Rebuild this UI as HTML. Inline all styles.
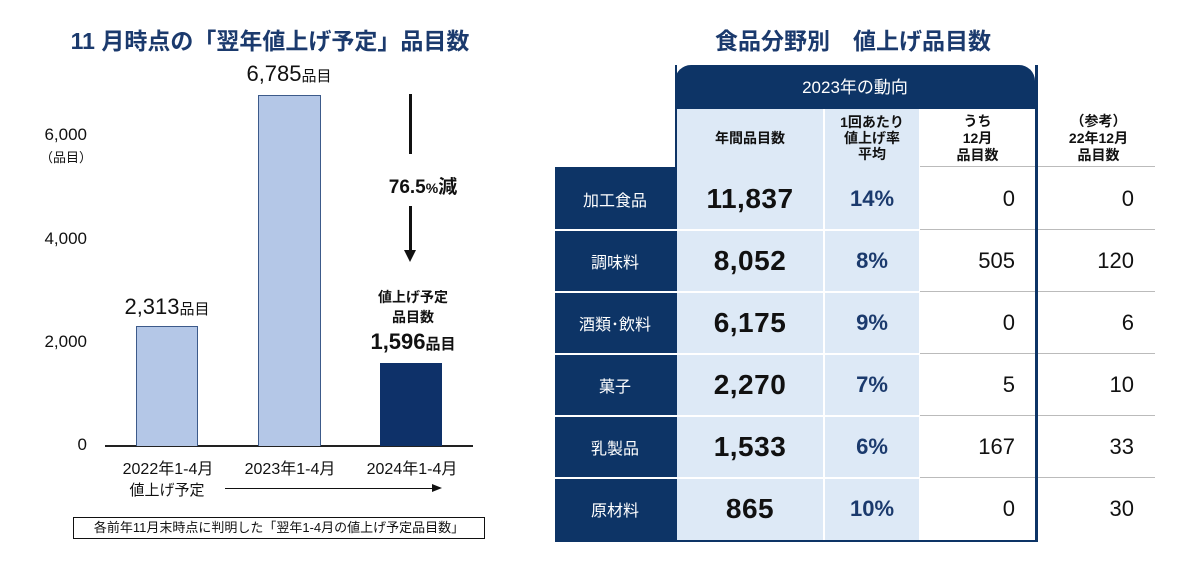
<!DOCTYPE html>
<html><head><meta charset="utf-8"><style>
body{margin:0;width:1202px;height:565px;background:#fff;position:relative;overflow:hidden;font-family:"Liberation Sans","Noto Sans CJK JP",sans-serif;color:#111}
.a{position:absolute;white-space:nowrap}
.c{transform:translateX(-50%);text-align:center}
.t{font-weight:bold;color:#1b3a6d;font-size:23px}
.bar{position:absolute;box-sizing:border-box}
.cell{position:absolute;display:flex;align-items:center;justify-content:center;box-sizing:border-box}
</style></head><body>
<div class="a c t" style="left:270px;top:22px">11 月時点の「翌年値上げ予定」品目数</div>
<div class="a t c" style="left:853px;top:22px">食品分野別　値上げ品目数</div>

<div class="a" style="right:1115px;top:125px;font-size:17px">6,000</div>
<div class="a" style="left:40px;top:147px;font-size:13px">（品目）</div>
<div class="a" style="right:1115px;top:229px;font-size:17px">4,000</div>
<div class="a" style="right:1115px;top:332px;font-size:17px">2,000</div>
<div class="a" style="right:1115px;top:435px;font-size:17px">0</div>
<div class="a" style="left:105px;top:445px;width:368px;height:2px;background:#222"></div>

<div class="bar" style="left:136px;top:326px;width:62px;height:120px;background:#b4c7e7;border:1.5px solid #3c5a8a;border-bottom:none"></div>
<div class="bar" style="left:258px;top:95px;width:63px;height:351px;background:#b4c7e7;border:1.5px solid #3c5a8a;border-bottom:none"></div>
<div class="bar" style="left:380px;top:363px;width:62px;height:83px;background:#0e3169"></div>

<div class="a c" style="left:289px;top:61px;font-size:22px">6,785<span style="font-size:15px">品目</span></div>
<div class="a c" style="left:167px;top:294px;font-size:22px">2,313<span style="font-size:15px">品目</span></div>
<div class="a c" style="left:413px;top:287px;font-size:14px;font-weight:bold;line-height:20px">値上げ予定<br>品目数</div>
<div class="a c" style="left:413px;top:329px;font-size:22px;font-weight:bold">1,596<span style="font-size:15px">品目</span></div>

<div class="a" style="left:409px;top:94px;width:3px;height:60px;background:#111"></div>
<div class="a c" style="left:423px;top:172px;font-size:19px;font-weight:bold">76.5<span style="font-size:14px">%</span>減</div>
<div class="a" style="left:409px;top:206px;width:3px;height:46px;background:#111"></div>
<div class="a" style="left:404px;top:250px;width:0;height:0;border-left:6.5px solid transparent;border-right:6.5px solid transparent;border-top:12px solid #111"></div>

<div class="a c" style="left:168px;top:455px;font-size:16px">2022年1-4月</div>
<div class="a c" style="left:290px;top:455px;font-size:16px">2023年1-4月</div>
<div class="a c" style="left:412px;top:455px;font-size:16px">2024年1-4月</div>
<div class="a c" style="left:167px;top:479px;font-size:15px">値上げ予定</div>
<div class="a" style="left:225px;top:488px;width:208px;height:1px;background:#111"></div>
<div class="a" style="left:432px;top:484px;width:0;height:0;border-top:4.5px solid transparent;border-bottom:4.5px solid transparent;border-left:10px solid #111"></div>
<div class="a" style="left:73px;top:517px;width:410px;height:20px;border:1.5px solid #111;font-size:13px;line-height:20px;text-align:center">各前年11月末時点に判明した「翌年1-4月の値上げ予定品目数」</div>

<div class="a" style="left:675px;top:65px;width:360px;height:44px;background:#0d3466;border-radius:16px 16px 0 0;color:#fff;font-size:17px;text-align:center;line-height:46px">2023年の動向</div>
<div class="a" style="left:677px;top:109px;width:242px;height:431px;background:#dde9f6"></div>
<div class="a" style="left:823px;top:109px;width:2px;height:431px;background:#fff"></div>
<div class="a" style="left:675px;top:65px;width:2px;height:477px;background:#0d3466"></div>
<div class="a" style="left:1035px;top:65px;width:3px;height:477px;background:#0d3466"></div>
<div class="a" style="left:555px;top:167px;width:122px;height:375px;background:#0d3466"></div>
<div class="a" style="left:555px;top:540px;width:483px;height:2px;background:#0d3466"></div>

<div class="cell" style="left:677px;top:109px;width:146px;height:58px;font-size:14px;font-weight:bold">年間品目数</div>
<div class="cell" style="left:825px;top:109px;width:94px;height:58px;font-size:14px;font-weight:bold;line-height:16px;text-align:center">1回あたり<br>値上げ率<br>平均</div>
<div class="cell" style="left:920px;top:109px;width:115px;height:58px;font-size:14px;font-weight:bold;line-height:17px;text-align:center">うち<br>12月<br>品目数</div>
<div class="cell" style="left:1040px;top:109px;width:117px;height:58px;font-size:14px;font-weight:bold;line-height:17px;text-align:center">（参考）<br>22年12月<br>品目数</div>

<div id="rows"></div>
<script>
var d=[["加工食品","11,837","14%","0","0"],["調味料","8,052","8%","505","120"],["酒類･飲料","6,175","9%","0","6"],["菓子","2,270","7%","5","10"],["乳製品","1,533","6%","167","33"],["原材料","865","10%","0","30"]];
var h="";
var ys=[167,230,292,354,416,478,540];
for(var i=0;i<6;i++){var y=ys[i],hh=ys[i+1]-y;
h+='<div class="cell" style="left:555px;top:'+y+'px;width:120px;height:'+hh+'px;color:#fff;font-size:16px">'+d[i][0]+'</div>';
h+='<div class="cell" style="left:677px;top:'+y+'px;width:146px;height:'+hh+'px;font-size:28px;font-weight:bold;letter-spacing:0.5px">'+d[i][1]+'</div>';
h+='<div class="cell" style="left:825px;top:'+y+'px;width:94px;height:'+hh+'px;font-size:22px;font-weight:bold;color:#1b3a6d">'+d[i][2]+'</div>';
h+='<div class="cell" style="left:920px;top:'+y+'px;width:95px;height:'+hh+'px;font-size:22px;justify-content:flex-end">'+d[i][3]+'</div>';
h+='<div class="cell" style="left:1040px;top:'+y+'px;width:94px;height:'+hh+'px;font-size:22px;justify-content:flex-end">'+d[i][4]+'</div>';
if(i>0){h+='<div class="a" style="left:555px;top:'+(y-1)+'px;width:364px;height:2px;background:#fff"></div>';}
h+='<div class="a" style="left:920px;top:'+(y-1)+'px;width:115px;height:1px;background:#bbb"></div>';
h+='<div class="a" style="left:1038px;top:'+(y-1)+'px;width:117px;height:1px;background:#bbb"></div>';
}
document.getElementById("rows").outerHTML=h;
</script>
</body></html>
